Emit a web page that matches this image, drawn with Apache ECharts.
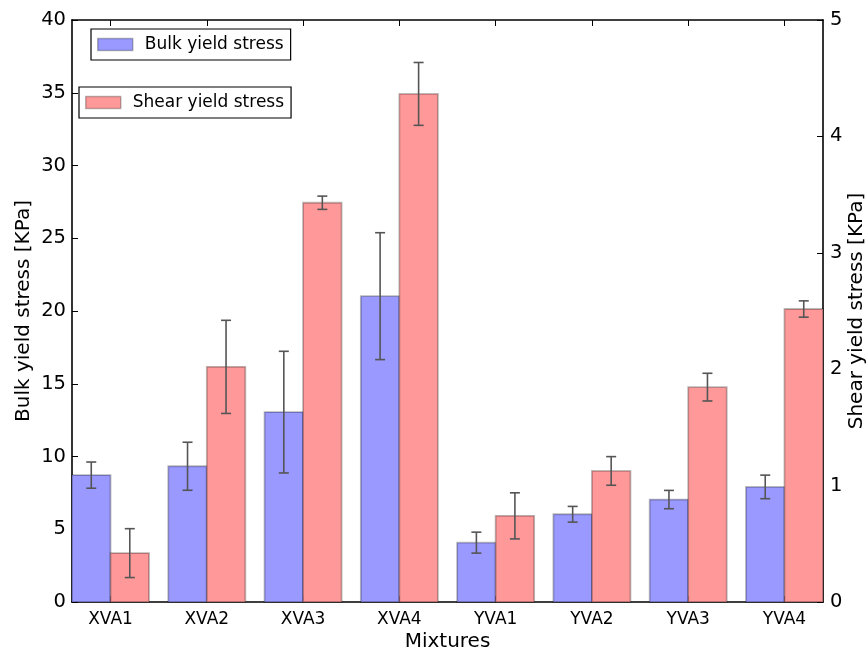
<!DOCTYPE html>
<html>
<head>
<meta charset="utf-8">
<script src="https://cdn.jsdelivr.net/npm/echarts@6/dist/echarts.min.js"></script>
<style>html,body{margin:0;padding:0;background:#fff;}#c{width:868px;height:651px;}</style>
</head>
<body>
<div id="c"></div>
<script>
const categories = ['XVA1','XVA2','XVA3','XVA4','YVA1','YVA2','YVA3','YVA4'];
const bulk = [8.72, 9.33, 13.05, 21.02, 4.08, 6.03, 7.04, 7.91];
const bulkErr = [0.9, 1.65, 4.18, 4.36, 0.72, 0.54, 0.63, 0.81];
const shear = [0.42, 2.02, 3.43, 4.365, 0.74, 1.126, 1.846, 2.517];
const shearErr = [0.21, 0.40, 0.057, 0.27, 0.198, 0.123, 0.119, 0.07];
const leftTicks = [0,5,10,15,20,25,30,35,40];
const rightTicks = [0,1,2,3,4,5];

const FONT = 'DejaVu Sans';
const BAR_W = 0.4;
const positions = categories.map((_, i) => i);

function makeRender(offsetDir, fill) {
  return function (params, api) {
    const x = api.value(0), v = api.value(1), e = api.value(2);
    const x0 = offsetDir < 0 ? x - BAR_W : x;
    const x1 = x0 + BAR_W;
    const pTop = api.coord([x0, v]);
    const pBot = api.coord([x1, 0]);
    const xc = x0 + BAR_W / 2;
    const eHi = api.coord([xc, v + e]);
    const eLo = api.coord([xc, v - e]);
    const cap = 5;
    const errStyle = { stroke: '#555555', lineWidth: 1.6 };
    return {
      type: 'group',
      children: [
        { type: 'rect', shape: { x: pTop[0], y: pTop[1], width: pBot[0] - pTop[0], height: pBot[1] - pTop[1] },
          style: { fill: fill, stroke: 'rgba(0,0,0,0.27)', lineWidth: 1.8 } },
        { type: 'line', shape: { x1: eHi[0], y1: eHi[1], x2: eLo[0], y2: eLo[1] }, style: errStyle },
        { type: 'line', shape: { x1: eHi[0] - cap, y1: eHi[1], x2: eHi[0] + cap, y2: eHi[1] }, style: errStyle },
        { type: 'line', shape: { x1: eLo[0] - cap, y1: eLo[1], x2: eLo[0] + cap, y2: eLo[1] }, style: errStyle }
      ]
    };
  };
}

const axisLineStyle = { color: '#000', width: 1.6 };
const chart = echarts.init(document.getElementById('c'), null, { renderer: 'canvas' });
const legendCommon = {
  orient: 'horizontal', itemWidth: 35, itemHeight: 12,
  borderColor: '#000', borderWidth: 1.2, backgroundColor: '#fff',
  padding: [7, 7, 7, 6],
  textStyle: { fontFamily: FONT, fontSize: 17, color: '#000', padding: [0, 0, 0, 7] },
  itemStyle: { borderColor: 'rgba(0,0,0,0.27)', borderWidth: 1.5 },
  icon: 'rect', selectedMode: false
};
chart.setOption({
  animation: false,
  textStyle: { fontFamily: FONT },
  grid: { left: 72, right: 45, top: 20, bottom: 49, containLabel: false, outerBoundsMode: 'none' },
  legend: [
    Object.assign({}, legendCommon, { left: 91, top: 29, data: ['Bulk yield stress'] }),
    Object.assign({}, legendCommon, { left: 79, top: 87, data: ['Shear yield stress'] })
  ],
  xAxis: [
    { type: 'value', min: -0.4, max: 7.4, position: 'bottom',
      name: 'Mixtures', nameLocation: 'middle', nameGap: 30, nameMoveOverlap: false,
      nameTextStyle: { fontFamily: FONT, fontSize: 20, color: '#000' },
      axisLine: { show: true, onZero: false, lineStyle: axisLineStyle },
      axisTick: { show: true, inside: true, length: 6, customValues: positions, lineStyle: { color: '#000', width: 1 } },
      axisLabel: { show: true, customValues: positions, margin: 9, fontFamily: FONT, fontSize: 17, color: '#000',
        formatter: v => categories[Math.round(v)] || '' },
      splitLine: { show: false } },
    { type: 'value', min: -0.4, max: 7.4, position: 'top',
      axisLine: { show: true, onZero: false, lineStyle: axisLineStyle },
      axisTick: { show: true, inside: true, length: 6, customValues: positions, lineStyle: { color: '#000', width: 1 } },
      axisLabel: { show: false }, splitLine: { show: false } }
  ],
  yAxis: [
    { type: 'value', min: 0, max: 40, interval: 5, position: 'left',
      name: 'Bulk yield stress [KPa]', nameLocation: 'middle', nameGap: 38, nameMoveOverlap: false,
      nameTextStyle: { fontFamily: FONT, fontSize: 20, color: '#000' },
      axisLine: { show: true, onZero: false, lineStyle: axisLineStyle },
      axisTick: { show: true, inside: true, length: 6, customValues: leftTicks, lineStyle: { color: '#000', width: 1 } },
      axisLabel: { margin: 6, fontFamily: FONT, fontSize: 19.5, color: '#000', customValues: leftTicks },
      splitLine: { show: false } },
    { type: 'value', min: 0, max: 5, interval: 1, position: 'right',
      name: 'Shear yield stress [KPa]', nameLocation: 'middle', nameGap: 24, nameMoveOverlap: false,
      nameTextStyle: { fontFamily: FONT, fontSize: 20, color: '#000' },
      axisLine: { show: true, onZero: false, lineStyle: axisLineStyle },
      axisTick: { show: true, inside: true, length: 6, customValues: rightTicks, lineStyle: { color: '#000', width: 1 } },
      axisLabel: { margin: 7, fontFamily: FONT, fontSize: 19.5, color: '#000', customValues: rightTicks },
      splitLine: { show: false } }
  ],
  series: [
    { name: 'Bulk yield stress', type: 'custom', xAxisIndex: 0, yAxisIndex: 0,
      itemStyle: { color: '#9999ff' },
      renderItem: makeRender(-1, '#9999ff'),
      encode: { x: 0, y: 1 },
      data: positions.map(i => [i, bulk[i], bulkErr[i]]) },
    { name: 'Shear yield stress', type: 'custom', xAxisIndex: 0, yAxisIndex: 1,
      itemStyle: { color: '#ff9999' },
      renderItem: makeRender(1, '#ff9999'),
      encode: { x: 0, y: 1 },
      data: positions.map(i => [i, shear[i], shearErr[i]]) }
  ]
});
</script>
</body>
</html>
